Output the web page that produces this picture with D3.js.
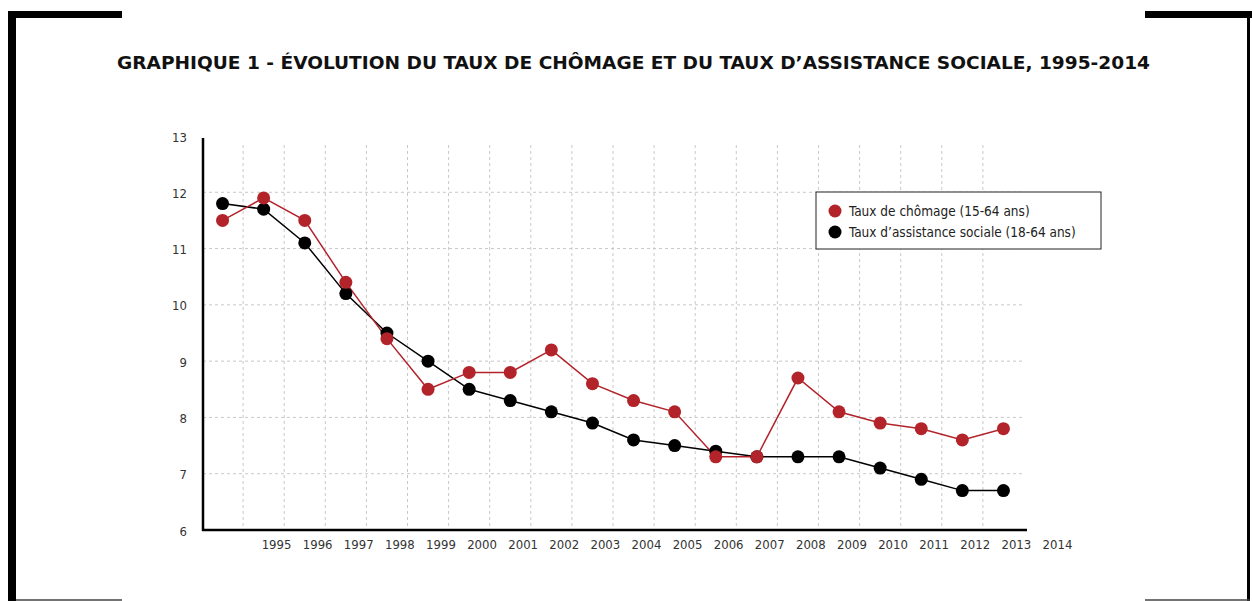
<!DOCTYPE html>
<html lang="fr">
<head>
    <meta charset="UTF-8">
    <title>Graphique 1 - taux de chômage et taux d'assistance sociale</title>
    <script src="https://d3js.org/d3.v7.min.js"></script>
    <style>
        body { margin: 0; background: #fff; }
        svg text { font-family: "DejaVu Sans Condensed", sans-serif; fill: #222; }
        .title { font-weight: bold; font-size: 18px; fill: #111; }
        .tick_text { font-size: 13px; fill: #333; }
        .legend_text { font-size: 13.5px; fill: #222; }
    </style>
</head>
<body>
<svg width="1252" height="601"></svg>

<script>
    // data
    const years = d3.range(1995, 2015).map(String);
    const chomage = [11.5, 11.9, 11.5, 10.4, 9.4, 8.5, 8.8, 8.8, 9.2, 8.6,
                     8.3, 8.1, 7.3, 7.3, 8.7, 8.1, 7.9, 7.8, 7.6, 7.8];
    const assistance = [11.8, 11.7, 11.1, 10.2, 9.5, 9.0, 8.5, 8.3, 8.1, 7.9,
                        7.6, 7.5, 7.4, 7.3, 7.3, 7.3, 7.1, 6.9, 6.7, 6.7];
    const yTicks = [6, 7, 8, 9, 10, 11, 12, 13];
    const seriesNames = ["Taux de chômage (15-64 ans)", "Taux d\u2019assistance sociale (18-64 ans)"];
    const seriesColors = ["#b3232a", "#000000"];

    const svg = d3.select("svg");

    // decorative frame
    svg.append("rect").attr("x", 8).attr("y", 11).attr("width", 8).attr("height", 590).attr("fill", "#000");
    svg.append("rect").attr("x", 8).attr("y", 11).attr("width", 114).attr("height", 7).attr("fill", "#000");
    svg.append("rect").attr("x", 1145).attr("y", 11).attr("width", 107).attr("height", 7).attr("fill", "#000");
    svg.append("rect").attr("x", 1247).attr("y", 11).attr("width", 3).attr("height", 590).attr("fill", "#000");
    svg.append("line").attr("x1", 16).attr("x2", 122).attr("y1", 600).attr("y2", 600).attr("stroke", "#444").attr("stroke-width", 1.5);
    svg.append("line").attr("x1", 1145).attr("x2", 1250).attr("y1", 600).attr("y2", 600).attr("stroke", "#444").attr("stroke-width", 1.5);

    svg.append("text").attr("class", "title")
        .attr("x", 117).attr("y", 69)
        .attr("textLength", 1033).attr("lengthAdjust", "spacingAndGlyphs")
        .text("GRAPHIQUE 1 - ÉVOLUTION DU TAUX DE CHÔMAGE ET DU TAUX D\u2019ASSISTANCE SOCIALE, 1995-2014");

    // scales
    const x = d3.scaleBand().domain(years).range([202, 1024]);
    const y = d3.scaleLinear().domain([6, 13]).range([530, 136]);
    const cx = d => x(d) + x.bandwidth() / 2;

    // grid
    const grid = svg.append("g").attr("stroke", "#c8c8c8").attr("stroke-dasharray", "3,3").attr("stroke-width", 1);
    grid.selectAll(".h").data(yTicks.filter(t => t > 6 && t < 13)).enter().append("line")
        .attr("x1", 203).attr("x2", 1022)
        .attr("y1", d => y(d)).attr("y2", d => y(d));
    grid.selectAll(".v").data(years.slice(1)).enter().append("line")
        .attr("x1", d => x(d)).attr("x2", d => x(d))
        .attr("y1", 145).attr("y2", 530);

    // axes
    const yAxis = svg.append("g").attr("transform", "translate(203,0)")
        .call(d3.axisLeft(y).tickValues(yTicks).tickFormat(d3.format("d")).tickSize(0).tickPadding(16));
    yAxis.select(".domain").remove();
    yAxis.selectAll("text").attr("class", "tick_text").attr("dy", "0.7em").attr("y", -4);
    svg.append("line").attr("x1", 203).attr("x2", 203).attr("y1", 138).attr("y2", 531)
        .attr("stroke", "#000").attr("stroke-width", 2.5);

    const xAxis = svg.append("g").attr("transform", "translate(0,530)")
        .call(d3.axisBottom(x).tickSize(0).tickPadding(10));
    xAxis.select(".domain").remove();
    xAxis.selectAll("text").attr("class", "tick_text").attr("dx", 54);
    svg.append("line").attr("x1", 202).attr("x2", 1027).attr("y1", 530).attr("y2", 530)
        .attr("stroke", "#000").attr("stroke-width", 2.5);

    // series
    const line = d3.line().x((d, i) => cx(years[i])).y(d => y(d));
    [assistance, chomage].forEach(function (vals, k) {
        const color = k === 0 ? seriesColors[1] : seriesColors[0];
        svg.append("path").datum(vals)
            .attr("d", line).attr("fill", "none")
            .attr("stroke", color).attr("stroke-width", 1.5);
    });
    [assistance, chomage].forEach(function (vals, k) {
        const color = k === 0 ? seriesColors[1] : seriesColors[0];
        svg.append("g").selectAll("circle").data(vals).enter().append("circle")
            .attr("cx", (d, i) => cx(years[i])).attr("cy", d => y(d))
            .attr("r", 6.5).attr("fill", color);
    });

    // legend
    const legend = svg.append("g").attr("transform", "translate(816,192)");
    legend.append("rect").attr("width", 285).attr("height", 57)
        .attr("fill", "#fff").attr("stroke", "#222").attr("stroke-width", 1);
    seriesNames.forEach(function (name, i) {
        legend.append("circle").attr("cx", 19).attr("cy", 19 + i * 21).attr("r", 6.5).attr("fill", seriesColors[i]);
        legend.append("text").attr("class", "legend_text")
            .attr("x", 33).attr("y", 19 + i * 21).attr("dy", "0.35em").text(name);
    });
</script>
</body>
</html>
